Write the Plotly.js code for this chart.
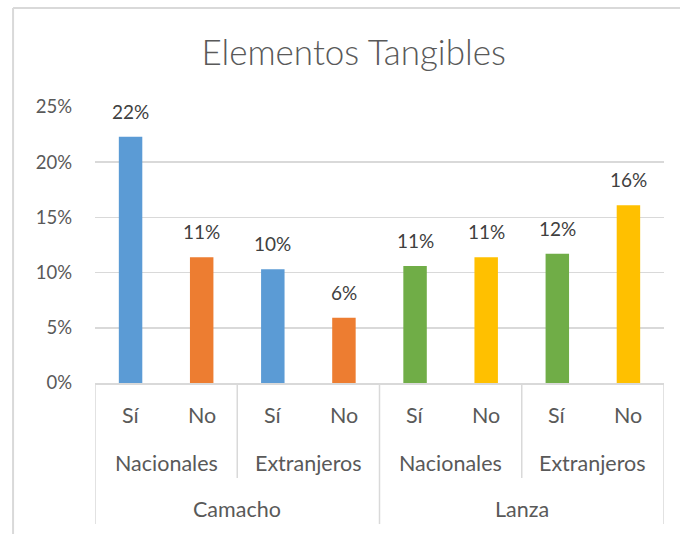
<!DOCTYPE html>
<html>
<head>
<meta charset="utf-8">
<script src="https://cdn.plot.ly/plotly-3.0.1.min.js"></script>
<style>
  html, body { margin: 0; padding: 0; background: #fff; }
  #chart { width: 680px; height: 534px; }
</style>
</head>
<body>
<div id="chart"></div>
<script>
// ---- data ----
const outerGroups = ["Camacho", "Camacho", "Camacho", "Camacho", "Lanza", "Lanza", "Lanza", "Lanza"];
const innerGroups = ["Nacionales", "Nacionales", "Extranjeros", "Extranjeros", "Nacionales", "Nacionales", "Extranjeros", "Extranjeros"];
const answers = ["Sí", "No", "Sí", "No", "Sí", "No", "Sí", "No"];
const values = [0.223, 0.114, 0.103, 0.059, 0.106, 0.114, 0.117, 0.161];
const barColors = ["#5B9BD5", "#ED7D31", "#5B9BD5", "#ED7D31", "#70AD47", "#FFC000", "#70AD47", "#FFC000"];
const yTickVals = [0, 0.05, 0.10, 0.15, 0.20, 0.25];

// ---- build ----
const ids = answers.map((a, i) => outerGroups[i] + " / " + innerGroups[i] + " / " + a);
const textColor = "#595959";
const font = "Lato, 'Open Sans', sans-serif";
const lineColor = "#d9d9d9";
const catSize = 21.5;

// runs of consecutive equal labels
function runs(arr, keyFn) {
  const out = [];
  let start = 0;
  for (let i = 1; i <= arr.length; i++) {
    if (i === arr.length || keyFn(i) !== keyFn(start)) {
      out.push({ label: arr[start], start: start, end: i - 1 });
      start = i;
    }
  }
  return out;
}
const outerRuns = runs(outerGroups, i => outerGroups[i]);
const innerRuns = runs(innerGroups, i => outerGroups[i] + "|" + innerGroups[i]);

const rowY = [-0.116, -0.29, -0.457];
const innerBottom = -0.344;
const outerBottom = -0.511;

const annotations = [];
// data labels
values.forEach((v, i) => {
  annotations.push({
    x: ids[i], y: v, xref: "x", yref: "y",
    text: Math.round(v * 100) + "%", showarrow: false,
    yanchor: "bottom", yshift: 12,
    font: { family: font, size: 19, color: "#404040" }
  });
});
// leaf labels
answers.forEach((a, i) => {
  annotations.push({
    x: i, y: rowY[0], xref: "x", yref: "paper", text: a, showarrow: false,
    yanchor: "middle", font: { family: font, size: catSize, color: textColor }
  });
});
innerRuns.forEach(r => {
  annotations.push({
    x: (r.start + r.end) / 2, y: rowY[1], xref: "x", yref: "paper", text: r.label, showarrow: false,
    yanchor: "middle", font: { family: font, size: catSize, color: textColor }
  });
});
outerRuns.forEach(r => {
  annotations.push({
    x: (r.start + r.end) / 2, y: rowY[2], xref: "x", yref: "paper", text: r.label, showarrow: false,
    yanchor: "middle", font: { family: font, size: catSize, color: textColor }
  });
});

const shapes = [];
const outerEdges = new Set([-0.5]);
outerRuns.forEach(r => outerEdges.add(r.end + 0.5));
const innerEdges = new Set();
innerRuns.forEach(r => { if (!outerEdges.has(r.end + 0.5)) innerEdges.add(r.end + 0.5); });
outerEdges.forEach(x => shapes.push({
  type: "line", xref: "x", yref: "paper", x0: x, x1: x, y0: 0, y1: outerBottom,
  line: { color: lineColor, width: 1.5 }
}));
innerEdges.forEach(x => shapes.push({
  type: "line", xref: "x", yref: "paper", x0: x, x1: x, y0: 0, y1: innerBottom,
  line: { color: lineColor, width: 1.5 }
}));
// chart area border (left and top)
shapes.push({ type: "line", xref: "paper", yref: "paper", x0: -0.144, x1: -0.144, y0: 1.359, y1: -0.6,
  line: { color: lineColor, width: 2 } });
shapes.push({ type: "line", xref: "paper", yref: "paper", x0: -0.144, x1: 1.03, y0: 1.359, y1: 1.359,
  line: { color: lineColor, width: 2 } });

const trace = {
  type: "bar",
  x: ids,
  y: values,
  marker: { color: barColors },
  hoverinfo: "skip"
};

const layout = {
  width: 680, height: 534,
  margin: { l: 95, r: 16, t: 107, b: 151 },
  paper_bgcolor: "#fff", plot_bgcolor: "#fff",
  title: {
    text: "Elementos Tangibles",
    font: { family: "Lato, 'Open Sans', sans-serif", size: 35, color: textColor, weight: 300 },
    x: 0.52, xanchor: "center", y: 0.902, yanchor: "middle"
  },
  bargap: 0.67,
  showlegend: false,
  xaxis: {
    type: "category",
    range: [-0.5, ids.length - 0.5],
    showticklabels: false, ticks: "",
    showgrid: false, zeroline: false,
    showline: true, linecolor: lineColor, linewidth: 1.5,
    fixedrange: true
  },
  yaxis: {
    range: [0, 0.25],
    tickvals: yTickVals,
    tickformat: ".0%",
    ticks: "",
    ticklabelstandoff: 22,
    showgrid: true, gridcolor: lineColor, gridwidth: 1.5,
    zeroline: false, showline: false,
    tickfont: { family: font, size: 18.5, color: textColor },
    fixedrange: true
  },
  annotations: annotations,
  shapes: shapes
};

Plotly.newPlot("chart", [trace], layout, { displayModeBar: false, staticPlot: true });
</script>
</body>
</html>
